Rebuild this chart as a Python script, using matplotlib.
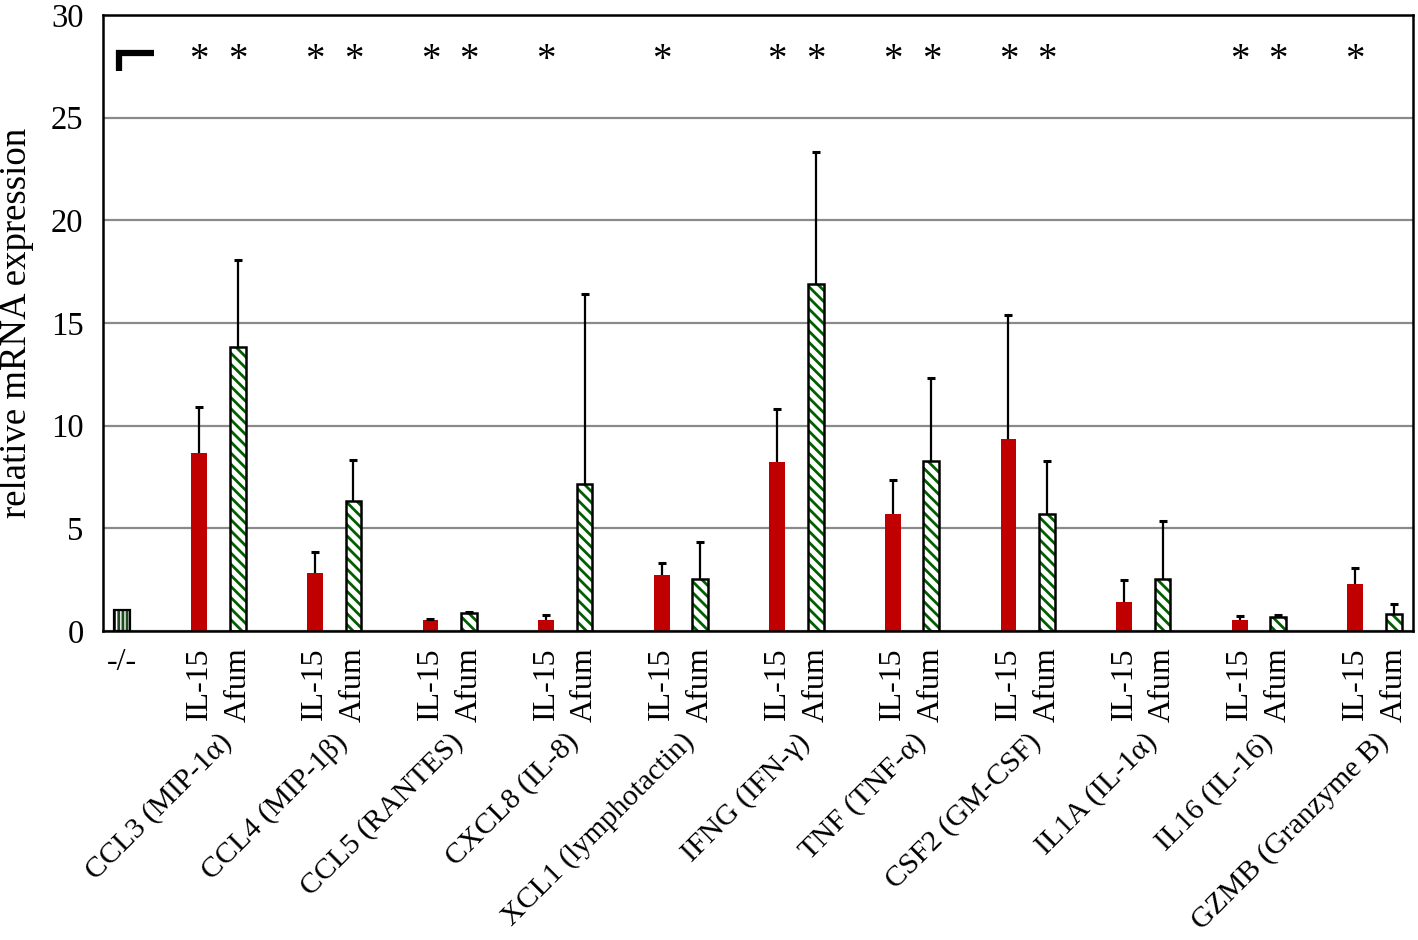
import matplotlib
matplotlib.use("Agg")
import matplotlib.pyplot as plt
import numpy as np

# ---------------- data ----------------
categories = ["CCL3 (MIP-1\u03b1)", "CCL4 (MIP-1\u03b2)", "CCL5 (RANTES)", "CXCL8 (IL-8)",
              "XCL1 (lymphotactin)", "IFNG (IFN-\u03b3)", "TNF (TNF-\u03b1)", "CSF2 (GM-CSF)",
              "IL1A (IL-1\u03b1)", "IL16 (IL-16)", "GZMB (Granzyme B)"]
control_label = "-/-"
control_value = 1.0
il15 = [8.67, 2.84, 0.54, 0.54, 2.73, 8.25, 5.71, 9.34, 1.41, 0.54, 2.29]
il15_err = [2.26, 0.99, 0.06, 0.24, 0.57, 2.55, 1.65, 6.05, 1.09, 0.21, 0.76]
afum = [13.82, 6.33, 0.86, 7.14, 2.52, 16.9, 8.28, 5.68, 2.55, 0.67, 0.84]
afum_err = [4.25, 2.00, 0.08, 9.26, 1.80, 6.45, 4.06, 2.60, 2.82, 0.13, 0.46]
sig_il15 = [1, 1, 1, 1, 1, 1, 1, 1, 0, 1, 1]
sig_afum = [1, 1, 1, 0, 0, 1, 1, 1, 0, 1, 0]
yticks = [0, 5, 10, 15, 20, 25, 30]
ylabel = "relative mRNA expression"

# ---------------- style ----------------
plt.rcParams['font.family'] = ['Liberation Serif', 'DejaVu Serif']
plt.rcParams['hatch.linewidth'] = 2.0

red = "#C00000"
green = "#006000"

fig = plt.figure(figsize=(14.18, 9.4), dpi=100)
ax = fig.add_axes([0.0726, 0.3287, 0.9239, 0.6553])

n = len(categories)
pos_il15 = np.array([2 + 3 * i for i in range(n)], dtype=float)
pos_afum = pos_il15 + 1
pos_ctrl = 0.0
w = 0.41

ax.set_axisbelow(True)
ax.yaxis.grid(True, color="#8a8a8a", linewidth=1.6)


def up_errorbars(x, y, e):
    cont = ax.errorbar(x, y, yerr=[np.zeros(len(y)), e], fmt="none", ecolor="black",
                       elinewidth=1.6, capsize=3.2, capthick=2.2, zorder=3)
    caps = cont.lines[1]
    # hide the cap drawn at the bar top (zero lower error)
    for cl in caps:
        yd = np.asarray(cl.get_ydata(), dtype=float)
        if np.allclose(yd, np.asarray(y, dtype=float)):
            cl.set_visible(False)


# control bar
ax.bar([pos_ctrl], [control_value], width=w, color="white", edgecolor="#1f4a1f",
       linewidth=0, hatch="||||", zorder=2)
ax.bar([pos_ctrl], [control_value], width=w, color="none", edgecolor="black",
       linewidth=1.6, zorder=2.5)

# IL-15 bars
ax.bar(pos_il15, il15, width=w, color=red, edgecolor="none", zorder=2)
up_errorbars(pos_il15, il15, il15_err)

# Afum bars
ax.bar(pos_afum, afum, width=w, color="white", edgecolor=green, linewidth=0,
       hatch="\\\\\\", zorder=2)
ax.bar(pos_afum, afum, width=w, color="none", edgecolor="black", linewidth=1.8, zorder=2.5)
up_errorbars(pos_afum, afum, afum_err)

ax.set_xlim(-0.5, 33.5)
ax.set_ylim(0, 30)
ax.set_yticks(yticks)
ax.tick_params(axis="y", length=0, pad=14, labelsize=23.5)
ax.set_ylabel(ylabel, fontsize=26.5, labelpad=12)

ticks = [pos_ctrl] + [p for pair in zip(pos_il15, pos_afum) for p in pair]
labels = [control_label] + ["IL-15", "Afum"] * n
ax.set_xticks(ticks)
ax.set_xticklabels(labels, fontsize=23)
ax.tick_params(axis="x", length=0, pad=12)
for i, t in enumerate(ax.get_xticklabels()):
    if i == 0:
        t.set_rotation(0)
    else:
        t.set_rotation(90)
        t.set_va("top")

for s in ax.spines.values():
    s.set_linewidth(1.8)

# significance asterisks
for i in range(n):
    if sig_il15[i]:
        ax.text(pos_il15[i], 27.3, "*", ha="center", va="baseline", fontsize=28)
    if sig_afum[i]:
        ax.text(pos_afum[i], 27.3, "*", ha="center", va="baseline", fontsize=28)

# corner mark
ax.plot([0.0122, 0.0122, 0.039], [0.909, 0.939, 0.939], transform=ax.transAxes,
        color="black", linewidth=4.5, solid_joinstyle="miter", solid_capstyle="butt",
        clip_on=False)

# category labels
trans = matplotlib.transforms.blended_transform_factory(ax.transData, ax.transAxes)
for i, c in enumerate(categories):
    ax.text(pos_il15[i] + 0.5, -0.158, c, transform=trans, rotation=45,
            rotation_mode="anchor", ha="right", va="top", fontsize=21.5)

fig.savefig("out.png", dpi=100)
